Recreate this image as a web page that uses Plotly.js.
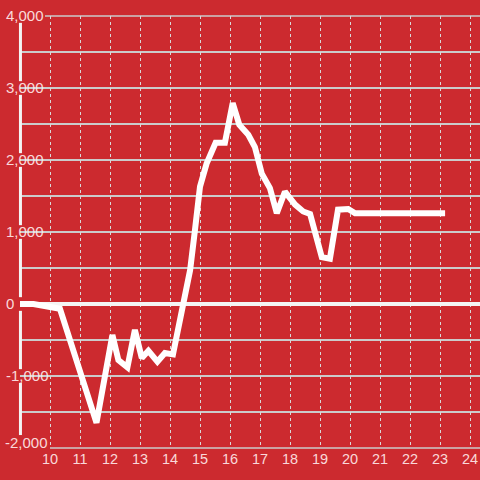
<!DOCTYPE html>
<html>
<head>
<meta charset="utf-8">
<script src="https://cdn.plot.ly/plotly-3.0.1.min.js"></script>
<style>
html,body{margin:0;padding:0;background:#cc2a2f;}
#chart{width:480px;height:480px;}
</style>
</head>
<body>
<div id="chart"></div>
<script>
// Data
var hours = [9.0, 9.45, 10.33, 11.55, 12.08, 12.28, 12.58, 12.83, 13.06, 13.28, 13.58, 13.83, 14.1, 14.2, 14.44, 14.67, 14.83, 15.0, 15.22, 15.52, 15.83, 16.09, 16.31, 16.61, 16.83, 17.06, 17.33, 17.56, 17.83, 18.17, 18.44, 18.67, 19.06, 19.33, 19.6, 19.94, 20.17, 23.17];
var values = [0, 0, -65, -1650, -430, -780, -880, -360, -750, -650, -800, -680, -700, -500, -40, 470, 1020, 1630, 1950, 2240, 2240, 2790, 2490, 2350, 2180, 1810, 1610, 1260, 1560, 1380, 1285, 1250, 650, 630, 1310, 1320, 1260, 1260];

var xTickVals = [10, 11, 12, 13, 14, 15, 16, 17, 18, 19, 20, 21, 22, 23, 24];
var yTickVals = [-2000, -1000, 0, 1000, 2000, 3000, 4000];
var yTickText = ['-2,000', '-1,000', '0', '1,000', '2,000', '3,000', '4,000'];
var yMin = -2000, yMax = 4000;

var RED = '#cc2a2f';
var GRID = '#cbcbcb';
var yFont = {family: 'Liberation Sans, Arial, sans-serif', size: 15, color: 'rgba(255,235,235,0.92)'};
var xFont = {family: 'Liberation Sans, Arial, sans-serif', size: 14.5, color: 'rgba(255,235,235,0.92)'};

function py(v) { return (v - yMin) / (yMax - yMin); }

var shapes = [];
// major (labelled) gridlines start right of the labels
yTickVals.forEach(function (v) {
  if (v === 0) return;
  shapes.push({type: 'line', layer: 'below', xref: 'paper', yref: 'paper',
    x0: (v === yMin ? 30 : 25) / 460, x1: 1, y0: py(v), y1: py(v),
    line: {color: GRID, width: 1.3}});
});
// white y-axis line, broken by the labels
var gap = 95;
for (var i = 0; i < yTickVals.length - 1; i++) {
  var a = yTickVals[i], b = yTickVals[i + 1];
  shapes.push({type: 'line', layer: 'above', xref: 'paper', yref: 'paper',
    x0: 0.001, x1: 0.001, y0: py(a + (i === 0 ? 180 : gap)), y1: py(b - gap),
    line: {color: '#f4f4f4', width: 3}});
}

// the bottom label sits just above its gridline (kept inside the plot)
var annotations = [{
  xref: 'paper', yref: 'y', x: -17 / 460, y: yTickVals[0],
  text: yTickText[0], showarrow: false, xanchor: 'left', yanchor: 'middle',
  yshift: 6, font: yFont
}];

var trace = {
  x: hours, y: values, type: 'scatter', mode: 'lines',
  line: {color: '#ffffff', width: 6},
  hoverinfo: 'skip'
};

var layout = {
  width: 480, height: 480,
  paper_bgcolor: RED, plot_bgcolor: RED,
  margin: {l: 20, r: 0, t: 16, b: 32},
  showlegend: false,
  font: xFont,
  xaxis: {
    range: [9, 24.3334],
    tickvals: xTickVals, ticktext: xTickVals.map(String),
    showgrid: true, gridcolor: '#d9d9d9', gridwidth: 1, griddash: 'dot',
    zeroline: false, showline: false, ticks: '',
    tickfont: xFont, fixedrange: true
  },
  yaxis: {
    range: [yMin, yMax],
    tickvals: yTickVals.slice(1), ticktext: yTickText.slice(1),
    showgrid: false,
    minor: {dtick: 500, tick0: 500, showgrid: true, gridcolor: GRID, gridwidth: 1.3, ticks: ''},
    zeroline: true, zerolinecolor: '#f4f4f4', zerolinewidth: 3.5,
    showline: false,
    ticks: '', ticklabelposition: 'inside', ticklabelstandoff: -17,
    ticklabeloverflow: 'allow',
    tickfont: yFont, fixedrange: true
  },
  shapes: shapes,
  annotations: annotations
};

Plotly.newPlot('chart', [trace], layout, {staticPlot: true, displayModeBar: false});
</script>
</body>
</html>
